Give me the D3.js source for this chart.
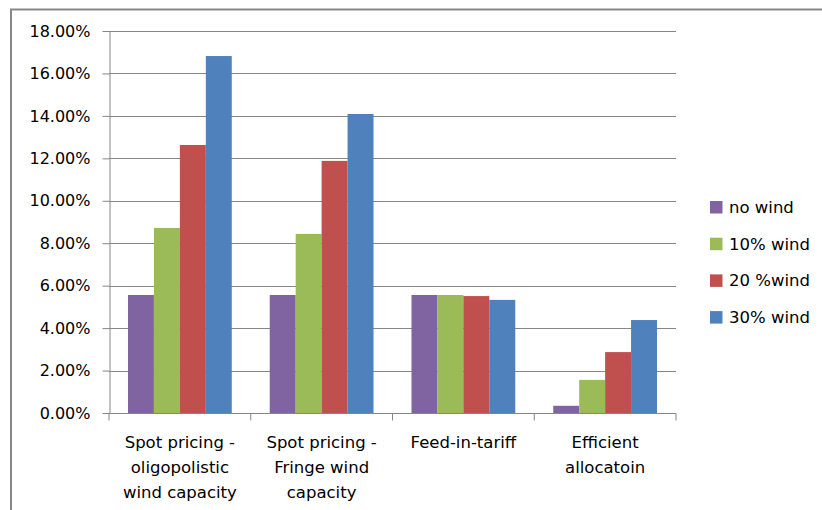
<!DOCTYPE html>
<html><head><meta charset="utf-8">
<script src="https://cdn.jsdelivr.net/npm/d3@7"></script>
<style>body{margin:0;background:#fff}svg{display:block}text{font-family:"DejaVu Sans",sans-serif;fill:#000}</style>
</head><body>
<svg id="c" width="822" height="510"></svg>
<script>
const categories = [["Spot pricing -","oligopolistic","wind capacity"],["Spot pricing -","Fringe wind","capacity"],["Feed-in-tariff"],["Efficient","allocatoin"]];
const seriesNames = ["no wind","10% wind","20 %wind","30% wind"];
const seriesColors = ["#8064a2","#9bbb59","#c0504d","#4f81bd"];
const noWind   = [0.0556,0.0556,0.0556,0.0034];
const wind10   = [0.0872,0.0844,0.0556,0.0156];
const wind20   = [0.1263,0.1188,0.0551,0.0287];
const wind30   = [0.1682,0.1409,0.0533,0.0438];
const yTicks = [0,0.02,0.04,0.06,0.08,0.10,0.12,0.14,0.16,0.18];

const series = [noWind,wind10,wind20,wind30];
const svg = d3.select("#c");
const L=109,R=676,T=31,B=413;
const catIdx = categories.map((d,i)=>i);
const x0 = d3.scaleBand().domain(catIdx).range([L,R]);
const x1 = d3.scaleBand().domain(d3.range(4)).range([0,x0.bandwidth()]).paddingOuter(0.732);
const y = d3.scaleLinear().domain([0,0.18]).range([B,T]);

// frame
svg.append("path").attr("d","M11,510V9.5H822").attr("fill","none").attr("stroke","#888").attr("stroke-width",2);

// gridlines
svg.append("g").selectAll("line").data(yTicks.slice(1)).join("line")
 .attr("x1",L).attr("x2",R).attr("y1",d=>Math.round(y(d))+0.5).attr("y2",d=>Math.round(y(d))+0.5)
 .attr("stroke","#868686").attr("stroke-width",1);

// bars
const g = svg.append("g");
series.forEach((vals,s)=>{
  g.selectAll(null).data(vals).join("rect")
   .attr("x",(d,i)=>x0(i)+x1(s)).attr("width",x1.bandwidth())
   .attr("y",d=>y(d)).attr("height",d=>B-y(d)).attr("fill",seriesColors[s]);
});

// y axis
const ya = svg.append("g").attr("transform",`translate(${L+0.5},0)`)
 .call(d3.axisLeft(y).tickValues(yTicks).tickFormat(d3.format(".2%")).tickSize(7).tickSizeOuter(0).tickPadding(12));
ya.selectAll("path,line").attr("stroke","#868686");
ya.selectAll("text").attr("font-size","16px").attr("font-family","DejaVu Sans").attr("fill","#000");

// x axis
const xa = svg.append("g").attr("transform",`translate(0,${B+0.5})`);
xa.append("line").attr("x1",L).attr("x2",R).attr("stroke","#868686");
xa.selectAll("line.t").data([...catIdx,4]).join("line").attr("class","t")
 .attr("x1",d=>d<4?x0(d):R).attr("x2",d=>d<4?x0(d):R).attr("y1",0).attr("y2",7).attr("stroke","#868686");
categories.forEach((lines,i)=>{
  const t = svg.append("text").attr("text-anchor","middle").attr("font-size","16.5px");
  lines.forEach((ln,j)=>t.append("tspan").attr("x",x0(i)+x0.bandwidth()/2).attr("y",448+j*25).text(ln));
});

// legend
const lg = svg.append("g");
seriesNames.forEach((n,i)=>{
  const cy = 207 + i*36.7;
  lg.append("rect").attr("x",710).attr("y",cy-6).attr("width",12.5).attr("height",12.5).attr("fill",seriesColors[i]);
  lg.append("text").attr("x",729).attr("y",cy+6).attr("font-size","16.5px").text(n);
});
</script>
</body></html>
